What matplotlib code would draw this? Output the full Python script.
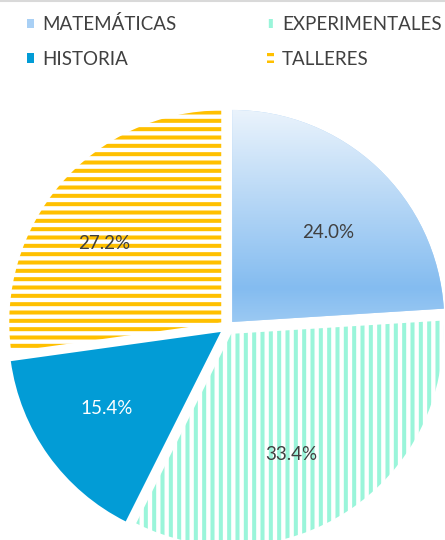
import matplotlib.pyplot as plt
import numpy as np
from matplotlib.colors import LinearSegmentedColormap

plt.rcParams['font.family'] = ['Lato', 'DejaVu Sans']
plt.rcParams['hatch.linewidth'] = 2.9

# data
materias = ["MATEMÁTICAS", "EXPERIMENTALES", "HISTORIA", "TALLERES"]
porcentajes = [24.0, 33.4, 15.4, 27.2]
colores = ["#A9D0F5", "#9AF5DA", "#029CD6", "#FFC000"]
tramas = [None, "||", None, "--"]
color_pct = ["#404040", "#404040", "#FFFFFF", "#404040"]

# label placement (data units, pie radius = 1), like the original
pos_etiquetas = [(0.479, 0.450), (0.302, -0.599), (-0.568, -0.384), (-0.578, 0.394)]

fig = plt.figure(figsize=(4.45, 5.4), dpi=100)
ax = fig.add_axes([0, 0, 1, 1])

wedges, texts, autotexts = ax.pie(
    porcentajes, startangle=90, counterclock=False, radius=1,
    explode=[0.036] * 4, autopct="%1.1f%%", pctdistance=0.64,
    textprops=dict(fontsize=13.5, color="#404040"),
)

for w, c, h, tc, t, p in zip(wedges, colores, tramas, color_pct, autotexts, pos_etiquetas):
    t.set_color(tc)
    t.set_position(p)
    t.set_zorder(5)
    if h:
        w.set_facecolor("white")
        w.set_edgecolor(c)
        w.set_hatch(h)
        w.set_linewidth(0)
    else:
        w.set_facecolor(c)
        w.set_linewidth(0)

# gradient fill for first slice
grad = LinearSegmentedColormap.from_list(
    "g", [(0, "#EAF3FC"), (0.8, "#84BCF0"), (1.0, "#A2CDF4")])
w0 = wedges[0]
x0, y0 = w0.center
img = ax.imshow(np.linspace(0, 1, 256).reshape(-1, 1), cmap=grad,
                extent=[x0, x0 + 1.01, y0 - 0.05, y0 + 1.0],
                aspect="auto", origin="upper", zorder=w0.get_zorder() + 0.1)
img.set_clip_path(w0)

# pie centre at (227, 327.5) px from top, radius 212 px
R = 212.0
cx, cy = 227.0, 540 - 327.5
ax.set_aspect("auto")
ax.set_xlim(-cx / R, (445 - cx) / R)
ax.set_ylim(-cy / R, (540 - cy) / R)
ax.axis("off")

orden = [0, 2, 1, 3]
leg = ax.legend([wedges[i] for i in orden], [materias[i] for i in orden],
                ncol=2, loc="upper left",
                bbox_to_anchor=(10 / 445, 1 + 2 / 540),
                frameon=False, fontsize=13.5, labelcolor="#404040",
                handlelength=0.38, handleheight=0.38, handletextpad=0.45,
                columnspacing=4.8, labelspacing=0.95)

fig.add_artist(plt.Line2D([0, 1], [0.999, 0.999], color="#D9D9D9", lw=1.5))

fig.savefig("out.png", dpi=100)
